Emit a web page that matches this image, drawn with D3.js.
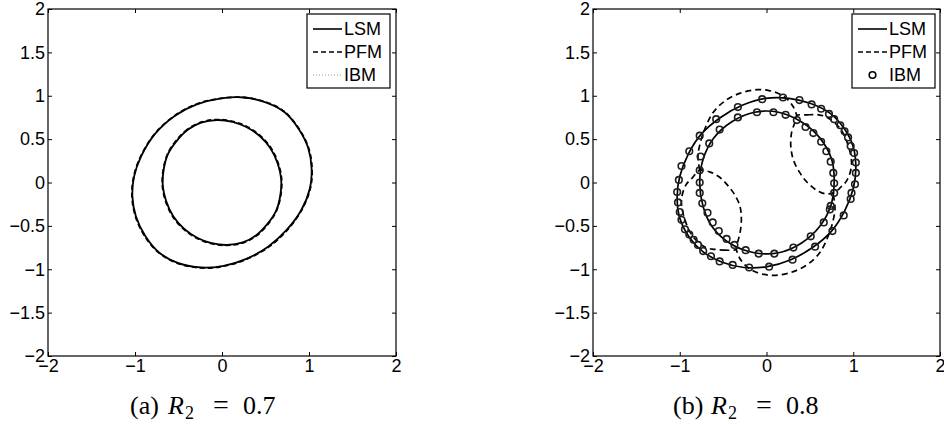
<!DOCTYPE html>
<html><head><meta charset="utf-8">
<script src="https://cdn.jsdelivr.net/npm/d3@7"></script>
<style>
body{margin:0;background:#fff;}
svg{display:block;}
</style></head>
<body>
<svg id="chart" width="944" height="426"></svg>
<script>
// ---------- data ----------
const xTicks = [-2, -1, 0, 1, 2];
const yTicks = [-2, -1.5, -1, -0.5, 0, 0.5, 1, 1.5, 2];
const legendLabels = ["LSM", "PFM", "IBM"];
const captionsPrefix = ["(a)", "(b)"];
const captionsValue = ["0.7", "0.8"];

// panel (a): R2 = 0.7
const aLsmOuter = [[0.88,0.62],[0.72,0.81],[0.51,0.92],[0.26,0.98],[-0.01,0.97],[-0.29,0.9],[-0.54,0.77],[-0.77,0.56],[-0.93,0.3],[-1.01,0.07],[-1.03,-0.16],[-0.99,-0.39],[-0.88,-0.62],[-0.72,-0.81],[-0.5,-0.93],[-0.24,-0.98],[0.02,-0.96],[0.28,-0.88],[0.53,-0.74],[0.74,-0.55],[0.91,-0.32],[1.01,-0.07],[1.03,0.16],[0.99,0.4]];
const aLsmInner = [[-0.24,0.69],[-0.39,0.61],[-0.52,0.48],[-0.62,0.33],[-0.67,0.15],[-0.68,-0.04],[-0.64,-0.22],[-0.56,-0.39],[-0.44,-0.53],[-0.28,-0.64],[-0.12,-0.7],[0.06,-0.72],[0.24,-0.69],[0.39,-0.61],[0.52,-0.48],[0.62,-0.33],[0.67,-0.15],[0.68,0.04],[0.64,0.22],[0.56,0.39],[0.44,0.53],[0.28,0.64],[0.12,0.7],[-0.06,0.72]];
const aPfmOuter = [[0.885,0.62],[0.72,0.815],[0.51,0.925],[0.26,0.98],[-0.01,0.97],[-0.29,0.905],[-0.545,0.77],[-0.775,0.56],[-0.935,0.3],[-1.015,0.07],[-1.035,-0.16],[-0.995,-0.39],[-0.885,-0.625],[-0.72,-0.815],[-0.5,-0.935],[-0.24,-0.985],[0.02,-0.965],[0.28,-0.885],[0.535,-0.745],[0.745,-0.555],[0.915,-0.32],[1.015,-0.07],[1.035,0.16],[0.995,0.4]];
const aPfmInner = [[-0.24,0.695],[-0.395,0.615],[-0.525,0.485],[-0.625,0.33],[-0.675,0.15],[-0.685,-0.04],[-0.645,-0.225],[-0.565,-0.395],[-0.445,-0.535],[-0.285,-0.645],[-0.12,-0.705],[0.06,-0.725],[0.24,-0.695],[0.395,-0.615],[0.525,-0.485],[0.625,-0.33],[0.675,-0.15],[0.685,0.04],[0.645,0.225],[0.565,0.395],[0.445,0.535],[0.285,0.645],[0.12,0.705],[-0.06,0.725]];
const aIbmOuter = [[0.88,0.62],[0.72,0.81],[0.51,0.92],[0.26,0.98],[-0.01,0.97],[-0.29,0.9],[-0.54,0.77],[-0.77,0.56],[-0.93,0.3],[-1.01,0.07],[-1.03,-0.16],[-0.99,-0.39],[-0.88,-0.62],[-0.72,-0.81],[-0.5,-0.93],[-0.24,-0.98],[0.02,-0.96],[0.28,-0.88],[0.53,-0.74],[0.74,-0.55],[0.91,-0.32],[1.01,-0.07],[1.03,0.16],[0.99,0.4]];
const aIbmInner = [[-0.24,0.69],[-0.39,0.61],[-0.52,0.48],[-0.62,0.33],[-0.67,0.15],[-0.68,-0.04],[-0.64,-0.22],[-0.56,-0.39],[-0.44,-0.53],[-0.28,-0.64],[-0.12,-0.7],[0.06,-0.72],[0.24,-0.69],[0.39,-0.61],[0.52,-0.48],[0.62,-0.33],[0.67,-0.15],[0.68,0.04],[0.64,0.22],[0.56,0.39],[0.44,0.53],[0.28,0.64],[0.12,0.7],[-0.06,0.72]];

// panel (b): R2 = 0.8
const bLsmOuter = [[0.89,0.63],[0.73,0.8],[0.51,0.91],[0.26,0.97],[-0.01,0.97],[-0.28,0.89],[-0.53,0.75],[-0.75,0.56],[-0.9,0.33],[-1.0,0.07],[-1.03,-0.16],[-1.0,-0.41],[-0.89,-0.63],[-0.73,-0.8],[-0.51,-0.92],[-0.26,-0.98],[0.01,-0.97],[0.28,-0.89],[0.53,-0.75],[0.75,-0.56],[0.9,-0.33],[1.0,-0.07],[1.03,0.16],[1.0,0.41]];
const bLsmInner = [[0.78,0.0],[0.75,0.27],[0.61,0.52],[0.4,0.7],[0.14,0.81],[-0.14,0.81],[-0.4,0.7],[-0.61,0.51],[-0.73,0.27],[-0.77,0.0],[-0.73,-0.28],[-0.62,-0.52],[-0.41,-0.71],[-0.14,-0.81],[0.14,-0.81],[0.4,-0.7],[0.61,-0.51],[0.74,-0.27]];
const bPfmTopArc = [[-0.77,0.14],[-0.79,0.3],[-0.76,0.47],[-0.71,0.62],[-0.62,0.8],[-0.48,0.94],[-0.3,1.03],[-0.11,1.07],[0.03,1.06],[0.15,1.02],[0.25,0.95],[0.31,0.87],[0.35,0.77]];
const bPfmBottomArc = [[0.77,-0.14],[0.79,-0.3],[0.76,-0.47],[0.71,-0.62],[0.62,-0.8],[0.48,-0.94],[0.3,-1.03],[0.11,-1.07],[-0.03,-1.06],[-0.15,-1.02],[-0.25,-0.95],[-0.31,-0.87],[-0.35,-0.77]];
const bPfmUpperLoop = [[0.35,0.77],[0.47,0.78],[0.6,0.78],[0.7,0.75],[0.85,0.62],[0.95,0.4],[0.98,0.2],[0.93,0.03],[0.85,-0.06],[0.77,-0.12],[0.68,-0.13],[0.58,-0.09],[0.47,0.0],[0.38,0.12],[0.31,0.26],[0.28,0.42],[0.29,0.58],[0.33,0.7]];
const bPfmLowerLoop = [[-0.35,-0.77],[-0.47,-0.78],[-0.6,-0.77],[-0.7,-0.75],[-0.85,-0.62],[-0.95,-0.4],[-0.98,-0.2],[-0.93,-0.03],[-0.85,0.06],[-0.77,0.14],[-0.65,0.12],[-0.54,0.06],[-0.45,-0.03],[-0.38,-0.12],[-0.31,-0.26],[-0.29,-0.4],[-0.3,-0.55],[-0.33,-0.68]];
const bIbmOuter = [[-0.05,0.96],[0.19,0.98],[0.38,0.95],[0.52,0.90],[0.63,0.85],[0.72,0.79],[0.78,0.73],[0.85,0.66],[0.90,0.59],[0.94,0.52],[0.97,0.42],[1.01,0.34],[1.03,0.23],[1.03,0.11],[1.02,-0.02],[0.98,-0.12],[0.97,-0.19],[0.89,-0.38],[0.76,-0.56],[0.56,-0.74],[0.30,-0.89],[0.03,-0.97],[-0.20,-0.98],[-0.39,-0.95],[-0.54,-0.91],[-0.64,-0.85],[-0.73,-0.79],[-0.79,-0.72],[-0.84,-0.66],[-0.89,-0.60],[-0.94,-0.54],[-0.98,-0.43],[-1.00,-0.34],[-1.02,-0.23],[-1.03,-0.11],[-1.01,0.03],[-0.98,0.19],[-0.89,0.36],[-0.77,0.54],[-0.58,0.73],[-0.33,0.87]];
const bIbmInner = [[-0.11,0.81],[0.08,0.81],[0.22,0.78],[0.35,0.72],[0.45,0.64],[0.54,0.57],[0.63,0.47],[0.69,0.36],[0.74,0.24],[0.77,0.11],[0.78,-0.01],[0.78,-0.12],[0.74,-0.27],[0.73,-0.31],[0.66,-0.46],[0.51,-0.62],[0.31,-0.75],[0.09,-0.82],[-0.09,-0.82],[-0.24,-0.78],[-0.37,-0.72],[-0.46,-0.65],[-0.55,-0.56],[-0.62,-0.46],[-0.68,-0.35],[-0.74,-0.24],[-0.77,-0.12],[-0.77,0.0],[-0.77,0.14],[-0.76,0.30],[-0.66,0.45],[-0.54,0.61],[-0.33,0.75]];

// ---------- drawing ----------
const svg = d3.select("#chart");
const FONT = "'Liberation Sans', Arial, Helvetica, sans-serif";
const SERIF = "'Liberation Serif', 'Times New Roman', serif";
const fmt = d => d < 0 ? "\u2212" + Math.abs(d) : String(d);

const panels = [
  {x0: 48, x1: 396, legendX: 307, capX: 130, prefix: captionsPrefix[0], value: captionsValue[0], ibmMarkers: false},
  {x0: 593, x1: 940, legendX: 852, capX: 673, prefix: captionsPrefix[1], value: captionsValue[1], ibmMarkers: true}
];
const yTop = 9, yBot = 356;

panels.forEach((p, i) => {
  const x = d3.scaleLinear().domain([-2, 2]).range([p.x0, p.x1]);
  const y = d3.scaleLinear().domain([-2, 2]).range([yBot, yTop]);
  const g = svg.append("g");
  const lineClosed = d3.line().x(d => x(d[0])).y(d => y(d[1])).curve(d3.curveCatmullRomClosed.alpha(0.5));
  const lineOpen = d3.line().x(d => x(d[0])).y(d => y(d[1])).curve(d3.curveCatmullRom.alpha(0.5));

  // axes (ticks inward on all four sides)
  const axB = d3.axisBottom(x).tickValues(xTicks).tickFormat(fmt).tickSizeInner(-4).tickSizeOuter(0).tickPadding(3);
  const axT = d3.axisTop(x).tickValues(xTicks).tickFormat("").tickSizeInner(-4).tickSizeOuter(0);
  const axL = d3.axisLeft(y).tickValues(yTicks).tickFormat(fmt).tickSizeInner(-4).tickSizeOuter(0).tickPadding(3);
  const axR = d3.axisRight(y).tickValues(yTicks).tickFormat("").tickSizeInner(-4).tickSizeOuter(0);
  [[axB, `translate(0,${yBot})`], [axT, `translate(0,${yTop})`], [axL, `translate(${p.x0},0)`], [axR, `translate(${p.x1},0)`]].forEach(([ax, tr]) => {
    const a = g.append("g").attr("transform", tr).call(ax);
    a.select(".domain").remove();
    a.selectAll("line").attr("stroke", "#000").attr("stroke-width", 1);
    a.selectAll("text").attr("font-family", FONT).attr("font-size", 18).attr("fill", "#000");
  });
  g.append("rect").attr("x", p.x0).attr("y", yTop).attr("width", p.x1 - p.x0).attr("height", yBot - yTop)
    .attr("fill", "none").attr("stroke", "#000").attr("stroke-width", 1.2);

  const curves = g.append("g");
  if (i === 0) {
    [aIbmOuter, aIbmInner].forEach(c => curves.append("path").attr("d", lineClosed(c)).attr("fill", "none")
      .attr("stroke", "#999").attr("stroke-width", 1).attr("stroke-dasharray", "1,2"));
    [aLsmOuter, aLsmInner].forEach(c => curves.append("path").attr("d", lineClosed(c)).attr("fill", "none")
      .attr("stroke", "#000").attr("stroke-width", 1.8));
    [aPfmOuter, aPfmInner].forEach(c => curves.append("path").attr("d", lineClosed(c)).attr("fill", "none")
      .attr("stroke", "#000").attr("stroke-width", 1.8).attr("stroke-dasharray", "5,3"));
  } else {
    [bLsmOuter, bLsmInner].forEach(c => curves.append("path").attr("d", lineClosed(c)).attr("fill", "none")
      .attr("stroke", "#000").attr("stroke-width", 1.7));
    [bPfmTopArc, bPfmBottomArc].forEach(c => curves.append("path").attr("d", lineOpen(c)).attr("fill", "none")
      .attr("stroke", "#000").attr("stroke-width", 1.7).attr("stroke-dasharray", "6,4"));
    [bPfmUpperLoop, bPfmLowerLoop].forEach(c => curves.append("path").attr("d", lineClosed(c)).attr("fill", "none")
      .attr("stroke", "#000").attr("stroke-width", 1.7).attr("stroke-dasharray", "6,4"));
    curves.selectAll("circle.ibm").data(bIbmOuter.concat(bIbmInner)).enter().append("circle")
      .attr("class", "ibm").attr("cx", d => x(d[0])).attr("cy", d => y(d[1])).attr("r", 3.3)
      .attr("fill", "none").attr("stroke", "#1e1e1e").attr("stroke-width", 1.6);
  }

  // legend
  const lg = g.append("g").attr("transform", `translate(${p.legendX},14)`);
  lg.append("rect").attr("width", 83).attr("height", 74).attr("fill", "#fff").attr("stroke", "#000").attr("stroke-width", 1.2);
  legendLabels.forEach((lab, k) => {
    const yy = 15 + k * 23;
    if (k === 0) lg.append("line").attr("x1", 6).attr("x2", 35).attr("y1", yy).attr("y2", yy).attr("stroke", "#000").attr("stroke-width", 1.6);
    if (k === 1) lg.append("line").attr("x1", 6).attr("x2", 35).attr("y1", yy).attr("y2", yy).attr("stroke", "#000").attr("stroke-width", 1.6).attr("stroke-dasharray", "5,3");
    if (k === 2) {
      if (p.ibmMarkers) lg.append("circle").attr("cx", 20.5).attr("cy", yy).attr("r", 3.3).attr("fill", "none").attr("stroke", "#000").attr("stroke-width", 1.6);
      else lg.append("line").attr("x1", 6).attr("x2", 35).attr("y1", yy).attr("y2", yy).attr("stroke", "#999").attr("stroke-width", 1).attr("stroke-dasharray", "1,2");
    }
    lg.append("text").attr("x", 37).attr("y", yy).attr("dy", "0.36em").attr("font-family", FONT).attr("font-size", 18).attr("fill", "#000").text(lab);
  });

  // caption
  const cap = svg.append("text").attr("y", 414).attr("font-family", SERIF).attr("font-size", 26).attr("fill", "#000");
  cap.append("tspan").attr("x", p.capX).text(p.prefix);
  cap.append("tspan").attr("x", p.capX + 38).attr("font-style", "italic").text("R");
  cap.append("tspan").attr("x", p.capX + 55).attr("font-size", 18).attr("dy", 5).text("2");
  cap.append("tspan").attr("x", p.capX + 83).attr("dy", -5).attr("font-size", 28).text("=");
  cap.append("tspan").attr("x", p.capX + 113).text(p.value);
});
</script>
</body></html>
